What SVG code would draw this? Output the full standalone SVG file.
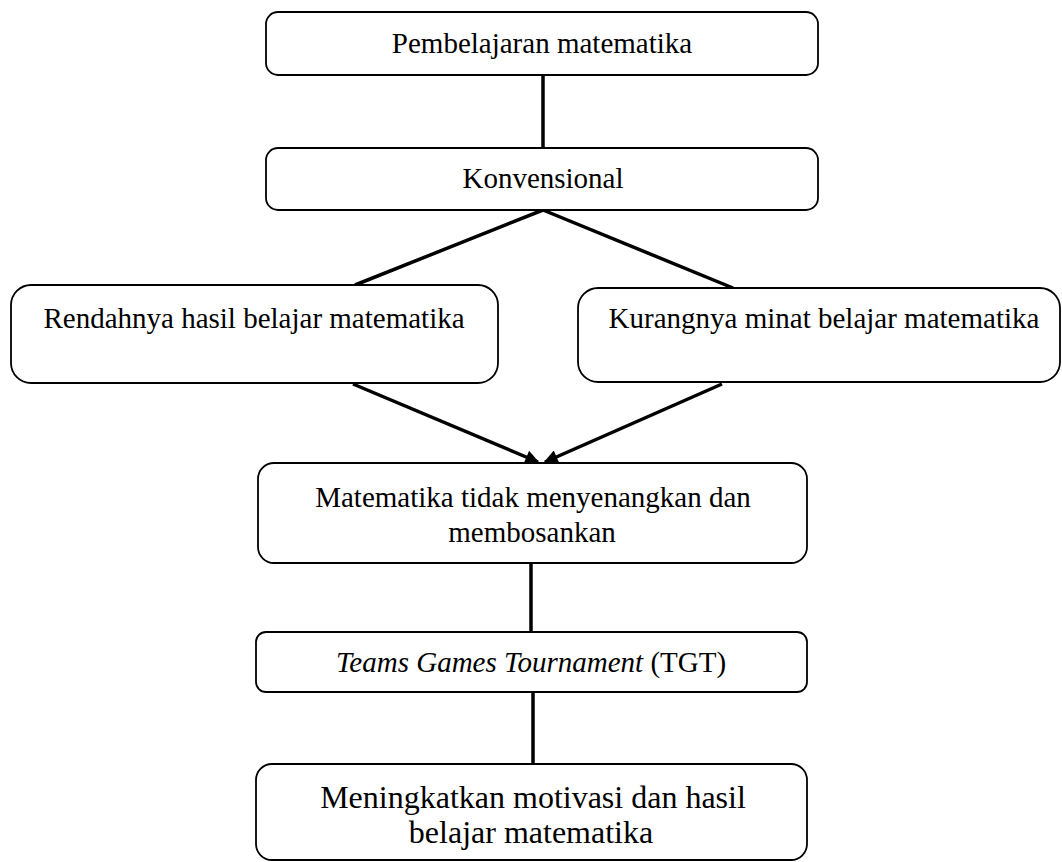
<svg xmlns="http://www.w3.org/2000/svg" width="1062" height="862" viewBox="0 0 1062 862">
<style>
.box{fill:#fff;stroke:#000;stroke-width:1.8}
.t{font-family:"Liberation Serif","Times New Roman",serif;font-size:29px;fill:#000;text-anchor:middle}
.big{font-size:32px}
.c{stroke:#000;stroke-width:3.5;fill:none}
</style>
<defs>
<marker id="ah" viewBox="0 0 10 10" refX="9" refY="5" markerWidth="5" markerHeight="4" orient="auto" markerUnits="strokeWidth">
<path d="M0,0 L10,5 L0,10 z" fill="#000"/>
</marker>
</defs>
<rect width="1062" height="862" fill="#fff"/>
<g id="connectors">
<line class="c" x1="543" y1="75" x2="543" y2="148"/>
<line class="c" x1="543" y1="210" x2="355" y2="285"/>
<line class="c" x1="543" y1="210" x2="733" y2="288"/>
<line class="c" x1="353" y1="384" x2="538" y2="462" marker-end="url(#ah)"/>
<line class="c" x1="722" y1="384" x2="545" y2="462" marker-end="url(#ah)"/>
<line class="c" x1="531" y1="563" x2="531" y2="632"/>
<line class="c" x1="533" y1="692" x2="533" y2="764"/>
</g>
<g id="n1">
<rect class="box" x="266" y="12" width="552" height="63" rx="12"/>
<text class="t" x="542" y="53">Pembelajaran matematika</text>
</g>
<g id="n2">
<rect class="box" x="266" y="148" width="552" height="62" rx="12"/>
<text class="t" x="543" y="188">Konvensional</text>
</g>
<g id="n3">
<rect class="box" x="11" y="285" width="487" height="98" rx="20"/>
<text class="t" x="254" y="328">Rendahnya hasil belajar matematika</text>
</g>
<g id="n4">
<rect class="box" x="578" y="288" width="482" height="94" rx="20"/>
<text class="t" x="824" y="328">Kurangnya minat belajar matematika</text>
</g>
<g id="n5">
<rect class="box" x="258" y="463" width="549" height="100" rx="16"/>
<text class="t" x="533" y="507">Matematika tidak menyenangkan dan</text>
<text class="t" x="532" y="542">membosankan</text>
</g>
<g id="n6">
<rect class="box" x="256" y="632" width="551" height="60" rx="10"/>
<text class="t" x="531" y="672"><tspan font-style="italic">Teams Games Tournament</tspan> (TGT)</text>
</g>
<g id="n7">
<rect class="box" x="256" y="764" width="551" height="96" rx="16"/>
<text class="t big" x="533" y="808">Meningkatkan motivasi dan hasil</text>
<text class="t big" x="531" y="843">belajar matematika</text>
</g>
</svg>
